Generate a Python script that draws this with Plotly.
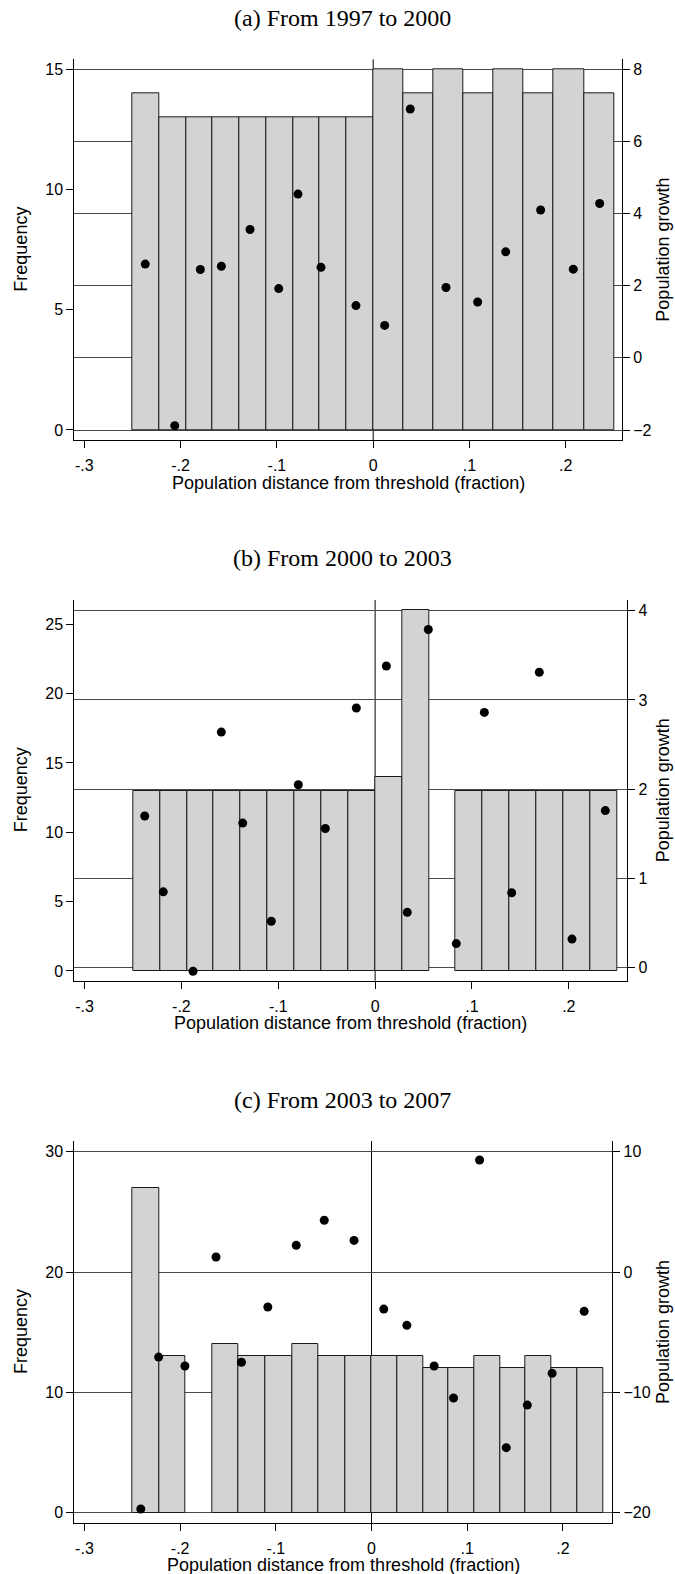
import plotly.graph_objects as go

# ---------------------------------------------------------------------------
# Data
# ---------------------------------------------------------------------------
# x tick labels shared by all panels
x_tickvals = [-0.3, -0.2, -0.1, 0.0, 0.1, 0.2]
x_ticktext = ["-.3", "-.2", "-.1", "0", ".1", ".2"]

# (a) From 1997 to 2000
a_title = "(a) From 1997 to 2000"
a_edges = [-0.25, -0.2222, -0.1944, -0.1667, -0.1389, -0.1111, -0.0833, -0.0556,
           -0.0278, 0.0, 0.03125, 0.0625, 0.09375, 0.125, 0.15625, 0.1875,
           0.21875, 0.25]
a_counts = [14, 13, 13, 13, 13, 13, 13, 13, 13, 15, 14, 15, 14, 15, 14, 15, 14]
a_pts_x = [-0.2367, -0.2061, -0.1795, -0.1577, -0.1279, -0.0981, -0.0781, -0.0542,
           -0.0179, 0.0119, 0.0385, 0.0756, 0.1085, 0.1376, 0.1739, 0.2078, 0.2352]
a_pts_y = [2.60, -1.88, 2.45, 2.54, 3.56, 1.92, 4.54, 2.51, 1.45, 0.90, 6.90,
           1.95, 1.55, 2.94, 4.10, 2.46, 4.28]
a_freq_ticks = [0, 5, 10, 15]
a_growth_ticks = [-2, 0, 2, 4, 6, 8]

# (b) From 2000 to 2003
b_title = "(b) From 2000 to 2003"
b_edges = [-0.25, -0.2222, -0.1944, -0.1667, -0.1389, -0.1111, -0.0833, -0.0556,
           -0.0278, 0.0, 0.0278, 0.0556, 0.0833, 0.1111, 0.1389, 0.1667, 0.1944,
           0.2222, 0.25]
b_counts = [13, 13, 13, 13, 13, 13, 13, 13, 13, 14, 26, 0, 13, 13, 13, 13, 13, 13]
b_pts_x = [-0.2379, -0.2187, -0.1880, -0.1588, -0.1367, -0.1072, -0.0793, -0.0514,
           -0.0194, 0.0116, 0.0332, 0.0549, 0.0838, 0.1128, 0.1410, 0.1695,
           0.2033, 0.2377]
b_pts_y = [1.70, 0.85, -0.04, 2.64, 1.62, 0.52, 2.05, 1.56, 2.91, 3.38, 0.62,
           3.79, 0.27, 2.86, 0.84, 3.31, 0.32, 1.76]
b_freq_ticks = [0, 5, 10, 15, 20, 25]
b_growth_ticks = [0, 1, 2, 3, 4]

# (c) From 2003 to 2007
c_title = "(c) From 2003 to 2007"
c_edges = [-0.25, -0.2222, -0.1944, -0.1667, -0.1389, -0.1111, -0.0833, -0.0556,
           -0.0278, 0.0, 0.0269, 0.0537, 0.0806, 0.1074, 0.1343, 0.1611, 0.1880,
           0.2148, 0.2417]
c_counts = [27, 13, 0, 14, 13, 13, 14, 13, 13, 13, 13, 12, 12, 13, 12, 13, 12, 12]
c_pts_x = [-0.2411, -0.2225, -0.1950, -0.1625, -0.1359, -0.1084, -0.0787, -0.0494,
           -0.0183, 0.0128, 0.0369, 0.0654, 0.0857, 0.1129, 0.1408, 0.1628,
           0.1887, 0.2222]
c_pts_y = [-19.7, -7.07, -7.81, 1.25, -7.5, -2.91, 2.22, 4.30, 2.63, -3.08, -4.43,
           -7.81, -10.47, 9.31, -14.6, -11.06, -8.42, -3.27]
c_freq_ticks = [0, 10, 20, 30]
c_growth_ticks = [-20, -10, 0, 10]

x_label = "Population distance from threshold (fraction)"
y_left_label = "Frequency"
y_right_label = "Population growth"

# ---------------------------------------------------------------------------
# Layout geometry (pixels of a 675 x 1574 page)
# ---------------------------------------------------------------------------
W, H = 675, 1574
SANS = "Liberation Sans, Arial, sans-serif"
SERIF = "Liberation Serif, Times New Roman, serif"
BAR_FILL = "#d3d3d3"
GRID = "#4a4a4a"
TICK_SIZE = 16
LABEL_SIZE = 18
TITLE_SIZE = 24

panels = [
    dict(title=a_title, edges=a_edges, counts=a_counts, px=a_pts_x, py=a_pts_y,
         fticks=a_freq_ticks, gticks=a_growth_ticks,
         box=(74.3, 622.0, 59.3, 440.0),
         xrange=[-0.3104, 0.2584], frange=[-0.416, 15.41], grange=[-2.277, 8.277],
         title_y=18, xlab_y=483),
    dict(title=b_title, edges=b_edges, counts=b_counts, px=b_pts_x, py=b_pts_y,
         fticks=b_freq_ticks, gticks=b_growth_ticks,
         box=(74.3, 627.3, 600.0, 980.7),
         xrange=[-0.3106, 0.2604], frange=[-0.70, 26.75], grange=[-0.146, 4.12],
         title_y=558, xlab_y=1023),
    dict(title=c_title, edges=c_edges, counts=c_counts, px=c_pts_x, py=c_pts_y,
         fticks=c_freq_ticks, gticks=c_growth_ticks,
         box=(74.3, 612.3, 1141.0, 1523.0),
         xrange=[-0.3106, 0.2516], frange=[-0.86, 30.89], grange=[-20.86, 10.89],
         title_y=1100, xlab_y=1565),
]

fig = go.Figure()
layout = dict(
    width=W, height=H,
    margin=dict(l=0, r=0, t=0, b=0),
    paper_bgcolor="white", plot_bgcolor="white",
    showlegend=False,
    font=dict(family=SANS, size=TICK_SIZE, color="black"),
)
annotations = []
shapes = []

tick_font = dict(family=SANS, size=TICK_SIZE, color="black")
label_font = dict(family=SANS, size=LABEL_SIZE, color="black")

for i, p in enumerate(panels):
    xa = "x" if i == 0 else f"x{i + 1}"
    yl_n = 2 * i + 1
    yr_n = 2 * i + 2
    yl = "y" if yl_n == 1 else f"y{yl_n}"
    yr = f"y{yr_n}"

    x0, x1, ytop, ybot = p["box"]
    xdom = [x0 / W, x1 / W]
    ydom = [1 - ybot / H, 1 - ytop / H]

    # histogram bars (empty bins are not drawn)
    edges, counts = p["edges"], p["counts"]
    bx, bw, bh = [], [], []
    for k, c in enumerate(counts):
        if c > 0:
            bx.append((edges[k] + edges[k + 1]) / 2)
            bw.append(edges[k + 1] - edges[k])
            bh.append(c)
    fig.add_trace(go.Bar(
        x=bx, y=bh, width=bw, xaxis=xa, yaxis=yl,
        marker=dict(color=BAR_FILL, line=dict(color="#1a1a1a", width=1)),
    ))

    # growth means
    fig.add_trace(go.Scatter(
        x=p["px"], y=p["py"], mode="markers", xaxis=xa, yaxis=yr,
        marker=dict(color="black", size=9, line=dict(width=0)),
    ))

    xkey = "xaxis" if i == 0 else f"xaxis{i + 1}"
    ylkey = "yaxis" if yl_n == 1 else f"yaxis{yl_n}"
    yrkey = f"yaxis{yr_n}"

    layout[xkey] = dict(
        domain=xdom, anchor=yl, range=p["xrange"],
        tickmode="array", tickvals=x_tickvals, ticktext=x_ticktext,
        ticks="outside", ticklen=7, tickwidth=1, tickcolor="black",
        ticklabelstandoff=4,
        showline=True, linecolor="black", linewidth=1,
        showgrid=False, zeroline=False, tickfont=tick_font,
    )
    layout[ylkey] = dict(
        domain=ydom, anchor=xa, range=p["frange"],
        tickmode="array", tickvals=p["fticks"],
        ticks="outside", ticklen=7, tickwidth=1, tickcolor="black",
        showline=True, linecolor="black", linewidth=1,
        showgrid=False, zeroline=False, tickfont=tick_font,
    )
    layout[yrkey] = dict(
        overlaying=yl, side="right", anchor=xa, range=p["grange"],
        tickmode="array", tickvals=p["gticks"],
        ticks="outside", ticklen=7, tickwidth=1, tickcolor="black",
        showline=True, linecolor="black", linewidth=1,
        showgrid=True, gridcolor=GRID, gridwidth=1,
        zeroline=False, tickfont=tick_font,
    )

    # vertical reference line at the threshold
    shapes.append(dict(
        type="line", xref=xa, yref=f"{yl} domain", x0=0, x1=0, y0=0, y1=1,
        line=dict(color="black", width=1), layer="below",
    ))

    # panel title
    annotations.append(dict(
        text=p["title"], xref="paper", yref="paper",
        x=342 / W, y=1 - p["title_y"] / H, xanchor="center", yanchor="middle",
        showarrow=False, font=dict(family=SERIF, size=TITLE_SIZE, color="black"),
    ))
    # x axis title
    annotations.append(dict(
        text=x_label, xref="paper", yref="paper",
        x=(x0 + x1) / 2 / W, y=1 - p["xlab_y"] / H,
        xanchor="center", yanchor="middle", showarrow=False, font=label_font,
    ))
    ymid = 1 - (ytop + ybot) / 2 / H
    annotations.append(dict(
        text=y_left_label, xref="paper", yref="paper",
        x=21 / W, y=ymid, xanchor="center", yanchor="middle",
        textangle=-90, showarrow=False, font=label_font,
    ))
    annotations.append(dict(
        text=y_right_label, xref="paper", yref="paper",
        x=663 / W, y=ymid, xanchor="center", yanchor="middle",
        textangle=-90, showarrow=False, font=label_font,
    ))

layout["annotations"] = annotations
layout["shapes"] = shapes
layout["bargap"] = 0
fig.update_layout(**layout)

fig.write_html("out.html")
